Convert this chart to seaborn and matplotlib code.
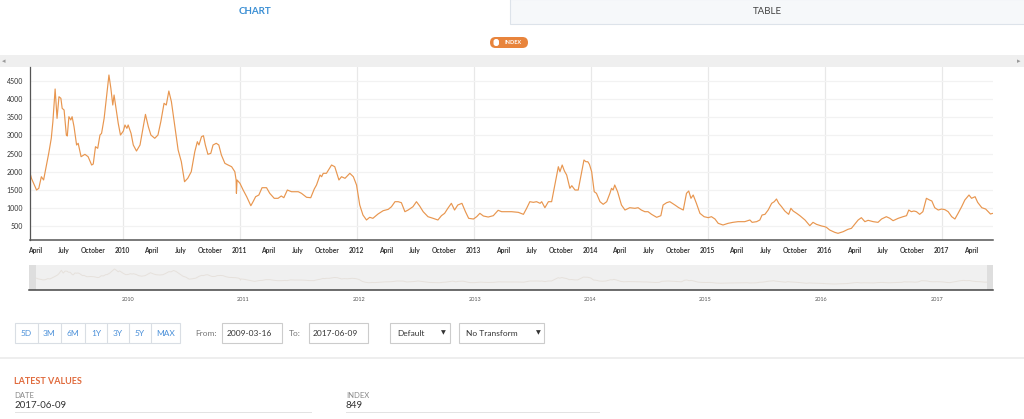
import matplotlib
matplotlib.use("Agg")
import matplotlib.pyplot as plt
import matplotlib.dates as mdates
from matplotlib.patches import Rectangle, FancyBboxPatch
import seaborn as sns
import pandas as pd

# ---- data ----
d2009 = ["2009-03-16","2009-03-22","2009-04-07","2009-04-14","2009-04-22","2009-04-29","2009-05-08","2009-05-15",
         "2009-05-23","2009-05-28","2009-06-04","2009-06-10","2009-06-16","2009-06-22","2009-06-26","2009-07-02",
         "2009-07-09","2009-07-12","2009-07-17","2009-07-23","2009-07-27","2009-08-02","2009-08-10","2009-08-15",
         "2009-08-24","2009-09-05","2009-09-15","2009-09-26","2009-10-01","2009-10-08","2009-10-15","2009-10-22",
         "2009-10-27","2009-11-04","2009-11-12","2009-11-19","2009-11-25","2009-12-01","2009-12-05","2009-12-11",
         "2009-12-18","2009-12-25"]
v2009 = [2017,1816,1493,1540,1860,1770,2183,2505,2920,3380,4280,3470,4067,4023,3747,3700,3010,2983,3516,3425,
         3516,3240,2735,2782,2412,2478,2412,2183,2210,2688,2644,3010,3057,3470,4114,4666,4299,3838,4114,3747,
         3333,3010]

d2010 = ["2010-01-03","2010-01-08","2010-01-14","2010-01-18","2010-01-27","2010-02-03","2010-02-13","2010-02-24",
         "2010-03-06","2010-03-13","2010-03-22","2010-03-30","2010-04-11","2010-04-21","2010-04-30","2010-05-10",
         "2010-05-17","2010-05-25","2010-06-02","2010-06-12","2010-06-23","2010-07-03","2010-07-13","2010-07-23",
         "2010-08-03","2010-08-14","2010-08-22","2010-08-27","2010-09-04","2010-09-10","2010-09-16","2010-09-24",
         "2010-10-03","2010-10-10","2010-10-20","2010-10-28","2010-11-05","2010-11-16","2010-11-26","2010-12-07",
         "2010-12-17","2010-12-21","2010-12-22","2010-12-24"]
v2010 = [3121,3287,3195,3287,3057,2735,2569,2735,3240,3580,3240,3010,2920,3010,3380,3885,3838,4224,3930,3287,
         2597,2274,1722,1816,1998,2550,2826,2735,2964,2991,2735,2478,2505,2735,2782,2735,2459,2229,2183,2136,
         1998,1770,1402,1770]

d2011 = ["2011-01-02","2011-01-12","2011-01-23","2011-02-05","2011-02-12","2011-02-20","2011-03-02","2011-03-12",
         "2011-03-26","2011-04-05","2011-04-19","2011-05-01","2011-05-11","2011-05-19","2011-05-30","2011-06-12",
         "2011-07-03","2011-07-13","2011-07-29","2011-08-11","2011-08-22","2011-08-29","2011-09-09","2011-09-14",
         "2011-09-19","2011-09-29","2011-10-15","2011-10-25","2011-11-07","2011-11-15","2011-11-26","2011-12-11",
         "2011-12-22"]
v2011 = [1678,1493,1309,1060,1171,1309,1355,1557,1557,1402,1264,1264,1328,1281,1493,1446,1446,1402,1292,1281,
         1521,1631,1907,1860,1954,1954,2183,2136,1770,1860,1816,1954,1860]

d2012 = ["2012-01-01","2012-01-11","2012-01-21","2012-02-01","2012-02-11","2012-02-21","2012-03-08","2012-03-24",
         "2012-04-09","2012-04-19","2012-04-30","2012-05-10","2012-05-20","2012-05-31","2012-06-10","2012-06-25",
         "2012-07-06","2012-07-16","2012-07-27","2012-08-11","2012-08-27","2012-09-11","2012-09-22","2012-10-02",
         "2012-10-12","2012-10-23","2012-11-02","2012-11-12","2012-11-25","2012-12-06","2012-12-16","2012-12-31"]
v2012 = [1631,1079,803,666,740,712,831,922,960,1032,1171,1171,1143,895,941,1032,1171,1052,895,757,712,666,785,
         850,988,1126,941,1079,1126,895,712,693]

d2013 = ["2013-01-10","2013-01-20","2013-01-31","2013-02-15","2013-03-03","2013-03-18","2013-03-29","2013-04-14",
         "2013-04-29","2013-05-20","2013-06-05","2013-06-15","2013-06-25","2013-07-06","2013-07-16","2013-07-27",
         "2013-08-01","2013-08-11","2013-08-22","2013-09-01","2013-09-11","2013-09-22","2013-09-27","2013-10-04",
         "2013-10-11","2013-10-18","2013-10-28","2013-11-03","2013-11-13","2013-11-23","2013-12-02","2013-12-11",
         "2013-12-17","2013-12-23","2013-12-28"]
v2013 = [757,850,776,748,785,933,895,895,895,877,822,988,1171,1153,1171,1126,1171,1005,1171,1171,1631,2136,1998,
         2183,2017,1907,1540,1612,1493,1493,1907,2321,2274,2274,2202]

d2014 = ["2014-01-04","2014-01-12","2014-01-19","2014-01-30","2014-02-09","2014-02-20","2014-03-02","2014-03-07",
         "2014-03-12","2014-03-17","2014-03-26","2014-04-07","2014-04-18","2014-05-03","2014-05-19","2014-05-29",
         "2014-06-08","2014-06-19","2014-06-29","2014-07-10","2014-07-26","2014-08-08","2014-08-15","2014-08-26",
         "2014-09-05","2014-09-21","2014-10-03","2014-10-17","2014-10-27","2014-11-03","2014-11-10","2014-11-17",
         "2014-11-27","2014-12-08","2014-12-21"]
v2014 = [1998,1446,1402,1171,1099,1171,1402,1540,1493,1631,1446,1079,941,1005,988,1005,941,895,895,822,740,785,
         1079,1143,1171,1079,1005,941,1402,1466,1264,1355,1126,850,757]

d2015 = ["2015-01-03","2015-01-13","2015-01-24","2015-02-03","2015-02-18","2015-03-06","2015-03-21","2015-04-06",
         "2015-04-27","2015-05-13","2015-05-20","2015-06-03","2015-06-13","2015-06-20","2015-06-29","2015-07-09",
         "2015-07-20","2015-07-28","2015-08-04","2015-08-11","2015-08-20","2015-08-30","2015-09-11","2015-09-18",
         "2015-09-25","2015-10-06","2015-10-16","2015-11-01","2015-11-16","2015-11-26","2015-12-07","2015-12-23"]
v2015 = [730,757,693,574,528,574,601,620,620,666,601,620,666,803,822,941,1126,1171,1245,1126,1032,914,822,988,
         914,850,785,666,509,601,546,500]

d2016 = ["2016-01-02","2016-01-07","2016-01-17","2016-02-02","2016-02-12","2016-02-28","2016-03-14","2016-03-25",
         "2016-04-04","2016-04-15","2016-04-25","2016-05-06","2016-05-16","2016-06-01","2016-06-16","2016-06-27",
         "2016-07-12","2016-07-23","2016-08-02","2016-08-18","2016-09-02","2016-09-13","2016-09-20","2016-09-28",
         "2016-10-06","2016-10-14","2016-10-24","2016-11-03","2016-11-14","2016-11-24","2016-12-01","2016-12-10",
         "2016-12-21"]
v2016 = [481,463,390,325,298,343,408,436,546,666,730,620,657,620,601,693,757,712,647,712,757,785,941,895,914,895,
         822,895,1264,1217,1190,1005,941]

d2017 = ["2017-01-01","2017-01-11","2017-01-21","2017-02-01","2017-02-11","2017-02-21","2017-03-04","2017-03-14",
         "2017-03-27","2017-04-04","2017-04-15","2017-04-23","2017-05-06","2017-05-18","2017-06-02","2017-06-09"]
v2017 = [969,950,895,757,693,850,1032,1217,1355,1264,1309,1153,1005,969,831,849]

y_ticks = [500, 1000, 1500, 2000, 2500, 3000, 3500, 4000, 4500]
range_buttons = ["5D", "3M", "6M", "1Y", "3Y", "5Y", "MAX"]
date_from, date_to = "2009-03-16", "2017-06-09"
latest_date, latest_value = "2017-06-09", "849"

dates = d2009 + d2010 + d2011 + d2012 + d2013 + d2014 + d2015 + d2016 + d2017
values = v2009 + v2010 + v2011 + v2012 + v2013 + v2014 + v2015 + v2016 + v2017
df = pd.DataFrame({"date": pd.to_datetime(dates), "index": values})

LINE = "#e8964f"
W, H = 1024, 419

def fx(x):
    return x / W

def fy(y):
    return 1 - y / H

sns.set_style("white")
plt.rcParams["font.family"] = ["Lato", "DejaVu Sans"]

fig = plt.figure(figsize=(10.24, 4.19), dpi=100)

def rect(x0, y0, x1, y1, fc="white", ec="none", lw=0.8, z=0):
    fig.add_artist(Rectangle((fx(x0), fy(y1)), fx(x1) - fx(x0), fy(y0) - fy(y1),
                             transform=fig.transFigure, fc=fc, ec=ec, lw=lw, zorder=z))

def pill(x0, y0, x1, y1, r, fc):
    # inches based, so the rounding stays round
    fig.add_artist(FancyBboxPatch((x0 / 100, (H - y1) / 100), (x1 - x0) / 100, (y1 - y0) / 100,
                                  boxstyle="round,pad=0,rounding_size=%f" % (r / 100),
                                  transform=fig.dpi_scale_trans, fc=fc, ec="none"))

def txt(x, y, s, size=6, color="#333333", ha="left", weight="normal"):
    fig.text(fx(x), fy(y), s, fontsize=size, color=color, ha=ha, va="center", fontweight=weight)

# ---- tabs + series pill + top band ----
rect(510, -1, 1025, 24, fc="#f6f8fa", ec="#dde3ea")
txt(255, 12, "CHART", size=7, color="#3b8fd4", ha="center", weight="bold")
txt(767, 12, "TABLE", size=7, color="#444444", ha="center")
pill(490, 37, 528, 48, 5.5, "#e8843c")
pill(493.5, 39, 499, 46, 2.5, "white")
txt(513, 42.5, "INDEX", size=4, color="white", ha="center", weight="bold")
rect(0, 55, 1024, 67, fc="#efefef")
txt(4, 61, "◂", size=5, color="#999999", ha="center")
txt(1019, 61, "▸", size=5, color="#999999", ha="center")

# ---- main chart ----
ax = fig.add_axes([fx(29.5), fy(240), fx(992.7) - fx(29.5), fy(67) - fy(240)])
sns.lineplot(data=df, x="date", y="index", ax=ax, color=LINE, linewidth=0.85)
ax.set_xlim(pd.Timestamp(date_from), pd.Timestamp(date_to))
ax.set_ylim(114, 4887)
ax.set_yticks(y_ticks)
ax.set_xlabel("")
ax.set_ylabel("")
ax.xaxis.set_major_locator(mdates.YearLocator())
ax.xaxis.set_major_formatter(mdates.DateFormatter("%Y"))
ax.xaxis.set_minor_locator(mdates.MonthLocator(bymonth=[4, 7, 10]))
ax.xaxis.set_minor_formatter(mdates.DateFormatter("%B"))
ax.grid(False)
ax.yaxis.grid(True, color="#f2f2f2", linewidth=0.9)
ax.xaxis.grid(True, which="major", color="#e8e8e8", linewidth=0.9)
ax.tick_params(axis="x", which="both", length=0, labelsize=4.8, labelcolor="#333333", pad=5)
ax.tick_params(axis="y", length=0, labelsize=5, labelcolor="#333333", pad=4.5)
for lab in ax.get_xticklabels(which="both"):
    lab.set_fontweight("bold")
for side in ["top", "right"]:
    ax.spines[side].set_visible(False)
ax.spines["left"].set_color("#555555")
ax.spines["left"].set_linewidth(0.9)
ax.spines["bottom"].set_color("#555555")
ax.spines["bottom"].set_linewidth(1.1)

# ---- navigator ----
nav = fig.add_axes([fx(29.4), fy(290), fx(993) - fx(29.4), fy(265) - fy(290)])
nav.set_facecolor("#f0f0f0")
sns.lineplot(data=df, x="date", y="index", ax=nav, color="#e6e1dc", linewidth=0.7)
nav.set_xlim(pd.Timestamp("2009-02-23"), pd.Timestamp("2017-06-28"))
nav.set_ylim(-1450, 5830)
nav.set_xlabel("")
nav.set_ylabel("")
nav.set_yticks([])
nav.xaxis.set_major_locator(mdates.YearLocator())
nav.xaxis.set_major_formatter(mdates.DateFormatter("%Y"))
nav.tick_params(axis="x", length=0, labelsize=4, labelcolor="#555555", pad=5)
for side in ["top", "right", "left"]:
    nav.spines[side].set_visible(False)
nav.spines["bottom"].set_color("#444444")
nav.spines["bottom"].set_linewidth(1.1)
nav.add_patch(Rectangle((0, 0), 6.5 / 963.6, 1, transform=nav.transAxes, fc="#dedede", ec="none"))
nav.add_patch(Rectangle((1 - 6.5 / 963.6, 0), 6.5 / 963.6, 1, transform=nav.transAxes, fc="#dedede", ec="none"))

# ---- controls ----
rect(14.5, 323, 180, 343, ec="#d9dee4")
edges = [14.5, 37.5, 61, 85, 107, 129, 151, 180]
for i, lab in enumerate(range_buttons):
    if i > 0:
        rect(edges[i], 323, edges[i], 343, ec="#d9dee4")
    txt((edges[i] + edges[i + 1]) / 2, 333, lab, size=6, color="#4a90d9", ha="center")
txt(195, 333, "From:", size=6, color="#777777")
rect(222, 323, 282, 343, ec="#cccccc")
txt(227, 333, date_from, size=6)
txt(289, 333, "To:", size=6, color="#777777")
rect(308.5, 323, 368, 343, ec="#cccccc")
txt(313, 333, date_to, size=6)
rect(390, 323, 450, 343, ec="#cccccc")
txt(397, 333, "Default", size=6)
txt(443, 332.5, "▼", size=4.5, ha="center")
rect(459, 323, 544, 343, ec="#cccccc")
txt(466, 333, "No Transform", size=6)
txt(538, 332.5, "▼", size=4.5, ha="center")
rect(0, 357, 1024, 359, fc="#eeeeee")

# ---- latest values ----
txt(14.5, 381, "LATEST VALUES", size=6.5, color="#e06a3c", weight="bold")
txt(14.5, 395, "DATE", size=5.5, color="#888888")
txt(14.5, 405.5, latest_date, size=7, color="#333333")
rect(14.5, 412, 312, 412.8, fc="#e3e3e3")
txt(346, 395, "INDEX", size=5.5, color="#888888")
txt(346, 405.5, latest_value, size=7, color="#333333")
rect(346, 412, 600, 412.8, fc="#e3e3e3")

fig.savefig("out.png", dpi=100)
